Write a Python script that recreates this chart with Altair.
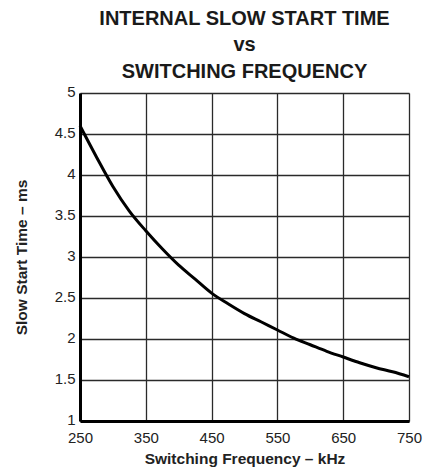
import altair as alt
import pandas as pd

freq_khz = [250, 275, 300, 325, 350, 375, 400, 425, 450, 475, 500, 525, 550, 575, 600, 625, 650, 675, 700, 725, 750]
slow_start_ms = [4.60, 4.22, 3.86, 3.56, 3.32, 3.10, 2.90, 2.73, 2.56, 2.43, 2.31, 2.21, 2.11, 2.01, 1.93, 1.85, 1.78, 1.71, 1.65, 1.60, 1.54]

x_ticks = [250, 350, 450, 550, 650, 750]
y_ticks = [1, 1.5, 2, 2.5, 3, 3.5, 4, 4.5, 5]

df = pd.DataFrame({"f": freq_khz, "t": slow_start_ms})

FONT = "Liberation Sans"

line = alt.Chart(df).mark_line(color="black", strokeWidth=3, interpolate="monotone").encode(
    x=alt.X("f:Q", scale=alt.Scale(domain=[250, 750], nice=False, zero=False),
            axis=alt.Axis(values=x_ticks, title="Switching Frequency – kHz", grid=True,
                          gridColor="#2a2a2a", gridWidth=1.3, gridOpacity=1,
                          domainColor="black", domainWidth=3, ticks=False,
                          labelPadding=9, labelFontSize=15, labelColor="#222",
                          labelFont=FONT, titleFont=FONT, titleFontSize=15.5,
                          titleFontWeight="bold", titleColor="#222", titlePadding=6,
                          labelFlush=False)),
    y=alt.Y("t:Q", scale=alt.Scale(domain=[1, 5], nice=False, zero=False),
            axis=alt.Axis(values=y_ticks, title="Slow Start Time – ms", grid=True,
                          gridColor="#2a2a2a", gridWidth=1.3, gridOpacity=1,
                          domainColor="black", domainWidth=3, ticks=False,
                          labelPadding=5, labelFontSize=15, labelColor="#222",
                          labelOffset=-1.5,
                          labelFont=FONT, titleFont=FONT, titleFontSize=15.5,
                          titleFontWeight="bold", titleColor="#222", titlePadding=25,
                          labelFlush=False, format="~g")),
)

chart = line.properties(
    width=329,
    height=328,
    title=alt.Title(["INTERNAL SLOW START TIME", "vs", "SWITCHING FREQUENCY"],
                    font=FONT, fontSize=20, fontWeight="bold", color="#1a1a1a",
                    lineHeight=26.5, offset=3, anchor="middle"),
    autosize=alt.AutoSizeParams(type="none"),
    padding={"left": 72, "top": 85, "right": 20, "bottom": 46},
).configure_view(stroke="black", strokeWidth=2.5).configure(background="white")

chart.save("out.html", embed_options={"renderer": "svg", "actions": False})
